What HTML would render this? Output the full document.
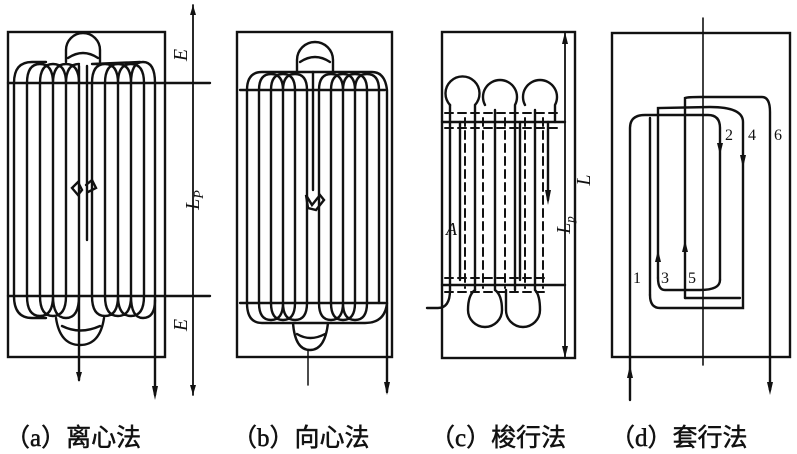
<!DOCTYPE html>
<html><head><meta charset="utf-8"><style>
html,body{margin:0;padding:0;background:#fff;}
svg{display:block}
text{font-family:"Liberation Serif","Noto Serif CJK SC",serif;fill:#111}
.l{font-family:"Liberation Serif","Noto Sans CJK SC",sans-serif;font-size:25px;stroke:#111;stroke-width:0.5}
</style></head><body>
<svg width="797" height="454" viewBox="0 0 797 454" xmlns="http://www.w3.org/2000/svg">
<g fill="none" stroke="#111" stroke-width="2.4" stroke-linecap="round">
<!-- Panel a -->
<rect x="8" y="32" width="157" height="325"/>
<line x1="8" y1="83" x2="210" y2="83"/>
<line x1="8" y1="296" x2="210" y2="296"/>
<line x1="193" y1="5" x2="193" y2="395" stroke-width="1.8"/>
<line x1="155" y1="296" x2="155" y2="395"/>
<path d="M14 83 L14 296 M27 83 L27 296 M40 83 L40 296 M53 83 L53 296 M66 83 L66 296 M92 83 L92 296 M105 83 L105 296 M118 83 L118 296 M131 83 L131 296 M144 83 L144 296 M155 83 L155 296"/>
<path d="M14 83 Q14 62 32 62 L46 62 M27 83 Q27 64 40 64 Q53 64 53 83 M40 83 Q40 64 53 64 Q66 64 66 83 M53 83 Q53 64 66 64 Q79 64 79 83 M66 83 Q66 64 79 64 M92 83 Q92 64 105 64 Q118 64 118 83 M105 83 Q105 64 118 64 Q131 64 131 83 M118 83 Q118 64 131 64 Q144 64 144 83 M131 83 Q131 62 143 62 Q155 62 155 83 M92 64 L140 62"/>
<path d="M14 296 Q14 318 32 318 L46 318 M27 296 Q27 316 40 316 Q53 316 53 296 M40 296 Q40 316 53 316 Q66 316 66 296 M53 296 Q53 318 66 318 Q79 318 79 296 M92 296 Q92 316 105 316 Q118 316 118 296 M105 296 Q105 316 118 316 Q131 316 131 296 M118 296 Q118 316 131 316 Q144 316 144 296 M131 296 Q131 318 143 318 Q155 318 155 300"/>
<path d="M66 62 L66 50 A17 17 0 0 1 100 50 L100 62 M68 58 Q83 48 98 58"/>
<path d="M56 318 Q60 345 80 345 Q100 345 104 318 M62 326 Q80 335 100 326"/>
<line x1="79" y1="66" x2="79" y2="380"/>
<line x1="87" y1="66" x2="87" y2="240"/>
<path d="M72 188 L78 182 L82 190 L78 195 Z M86 185 L92 180 L96 188 L88 192"/>
<!-- Panel b -->
<rect x="237" y="32" width="155" height="325"/>
<line x1="240" y1="90" x2="385" y2="90"/>
<line x1="240" y1="303" x2="385" y2="303"/>
<path d="M247 90 L247 303 M259 90 L259 303 M271 90 L271 303 M283 90 L283 303 M295 90 L295 303 M307 90 L307 303 M319 90 L319 303 M331 90 L331 303 M343 90 L343 303 M355 90 L355 303 M367 90 L367 303 M379 90 L379 303"/>
<path d="M247 90 Q247 72 262 72 L372 72 Q385 72 387 90 L387 392"/>
<path d="M259 90 Q259 74 271 74 Q283 74 283 90 M271 90 Q271 74 283 74 Q295 74 295 90 M283 90 Q283 74 295 74 Q307 74 307 90 M319 90 Q319 74 331 74 Q343 74 343 90 M331 90 Q331 74 343 74 Q355 74 355 90 M343 90 Q343 74 355 74 Q367 74 367 90 M355 90 Q355 74 367 74 Q379 74 379 90"/>
<path d="M247 303 Q247 323 262 323 L365 323 Q385 323 387 303 M259 303 Q259 320 271 320 Q283 320 283 303 M271 303 Q271 320 283 320 Q295 320 295 303 M283 303 Q283 320 295 320 Q307 320 307 303 M319 303 Q319 320 331 320 Q343 320 343 303 M331 303 Q331 320 343 320 Q355 320 355 303 M343 303 Q343 320 355 320 Q367 320 367 303"/>
<path d="M297 72 L297 60 A18 18 0 0 1 333 60 L333 72 M300 62 Q315 52 330 62"/>
<path d="M293 323 Q295 350 310 350 Q325 350 328 323 M297 334 Q310 342 325 334"/>
<line x1="308" y1="350" x2="308" y2="385" stroke-width="1.5"/>
<line x1="313" y1="72" x2="313" y2="190"/>
<path d="M306 195 L312 205 L320 195 L324 200 L316 210 L308 208 Z"/>
<!-- Panel c -->
<rect x="442" y="32" width="133" height="326"/>
<line x1="442" y1="122" x2="565" y2="122"/>
<line x1="442" y1="285" x2="565" y2="285"/>
<line x1="565" y1="32" x2="565" y2="358" stroke-width="1.8"/>
<path d="M450 105 A17 17 0 1 1 475 105 L475 290 M485 105 A17 17 0 1 1 515 105 L515 290 M525 105 A17 17 0 1 1 555 105 L555 122"/>
<path d="M450 105 L450 290 Q450 308 438 308 L427 308"/>
<path d="M475 290 Q468 295 468 310 A17 17 0 0 0 502 310 Q502 295 495 290 L495 110 M506 290 Q506 295 506 310 A17 17 0 0 0 540 310 Q540 295 535 290 L535 110"/>
<path d="M460 122 L460 280 M520 122 L520 280 M548 122 L548 200" />
<g stroke-dasharray="8 5" stroke-width="2">
<line x1="465" y1="118" x2="465" y2="288"/><line x1="483" y1="118" x2="483" y2="288"/>
<line x1="505" y1="118" x2="505" y2="288"/><line x1="525" y1="118" x2="525" y2="288"/>
<line x1="543" y1="118" x2="543" y2="288"/>
<line x1="445" y1="113" x2="560" y2="113"/><line x1="445" y1="128" x2="560" y2="128"/>
<line x1="445" y1="278" x2="545" y2="278"/><line x1="445" y1="292" x2="545" y2="292"/>
</g>
<!-- Panel d -->
<rect x="612" y="33" width="178" height="324"/>
<line x1="703" y1="18" x2="703" y2="365" stroke-width="1.6"/>
<path d="M630 400 L630 128 Q630 115 645 115 L708 115 Q720 115 720 128 L720 280"/>
<path d="M658 278 L658 108 L710 107 Q743 107 743 122 L743 308 L660 308 Q650 308 650 295"/>
<path d="M685 298 L685 98 Q688 97 700 97 L762 97 Q770 97 770 112 L770 390"/>
<path d="M650 295 L650 118 M685 298 Q690 298 700 298 L740 298 M720 280 Q720 290 700 290 L665 290 Q658 290 658 278"/>
</g>
<g fill="#111">
<polygon points="193,5 190,15 196,15"/><polygon points="193,395 190,385 196,385"/>
<polygon points="155,400 152,386 158,386"/><polygon points="79,382 76,372 82,372"/>
<polygon points="387,395 384,382 390,382"/>
<polygon points="565,32 562,44 568,44"/><polygon points="565,358 562,346 568,346"/>
<polygon points="548,205 545,190 551,190"/>
<polygon points="630,365 627,378 633,378"/><polygon points="770,395 767,382 773,382"/>
<polygon points="658,250 655,262 661,262"/><polygon points="685,240 682,252 688,252"/>
<polygon points="720,155 717,143 723,143"/><polygon points="743,168 740,155 746,155"/>
</g>
<g font-style="italic" font-size="20">
<text transform="translate(187,55) rotate(-90)" text-anchor="middle">E</text>
<text transform="translate(199,200) rotate(-90)" text-anchor="middle">L<tspan font-size="14" dy="4">P</tspan></text>
<text transform="translate(187,325) rotate(-90)" text-anchor="middle">E</text>
<text transform="translate(570,225) rotate(-90)" text-anchor="middle">L<tspan font-size="13" dy="4">p</tspan></text>
<text transform="translate(590,180) rotate(-90)" text-anchor="middle">L</text>
<text x="446" y="235" font-size="18">A</text>
</g>
<g font-size="16">
<text x="633" y="283">1</text><text x="661" y="283">3</text><text x="688" y="283">5</text>
<text x="725" y="140">2</text><text x="748" y="140">4</text><text x="774" y="140">6</text>
</g>
<text class="l" x="5" y="446">（a）离心法</text>
<text class="l" x="232" y="446">（b）向心法</text>
<text class="l" x="430" y="446">（c）梭行法</text>
<text class="l" x="610" y="446">（d）套行法</text>
</svg>
</body></html>
